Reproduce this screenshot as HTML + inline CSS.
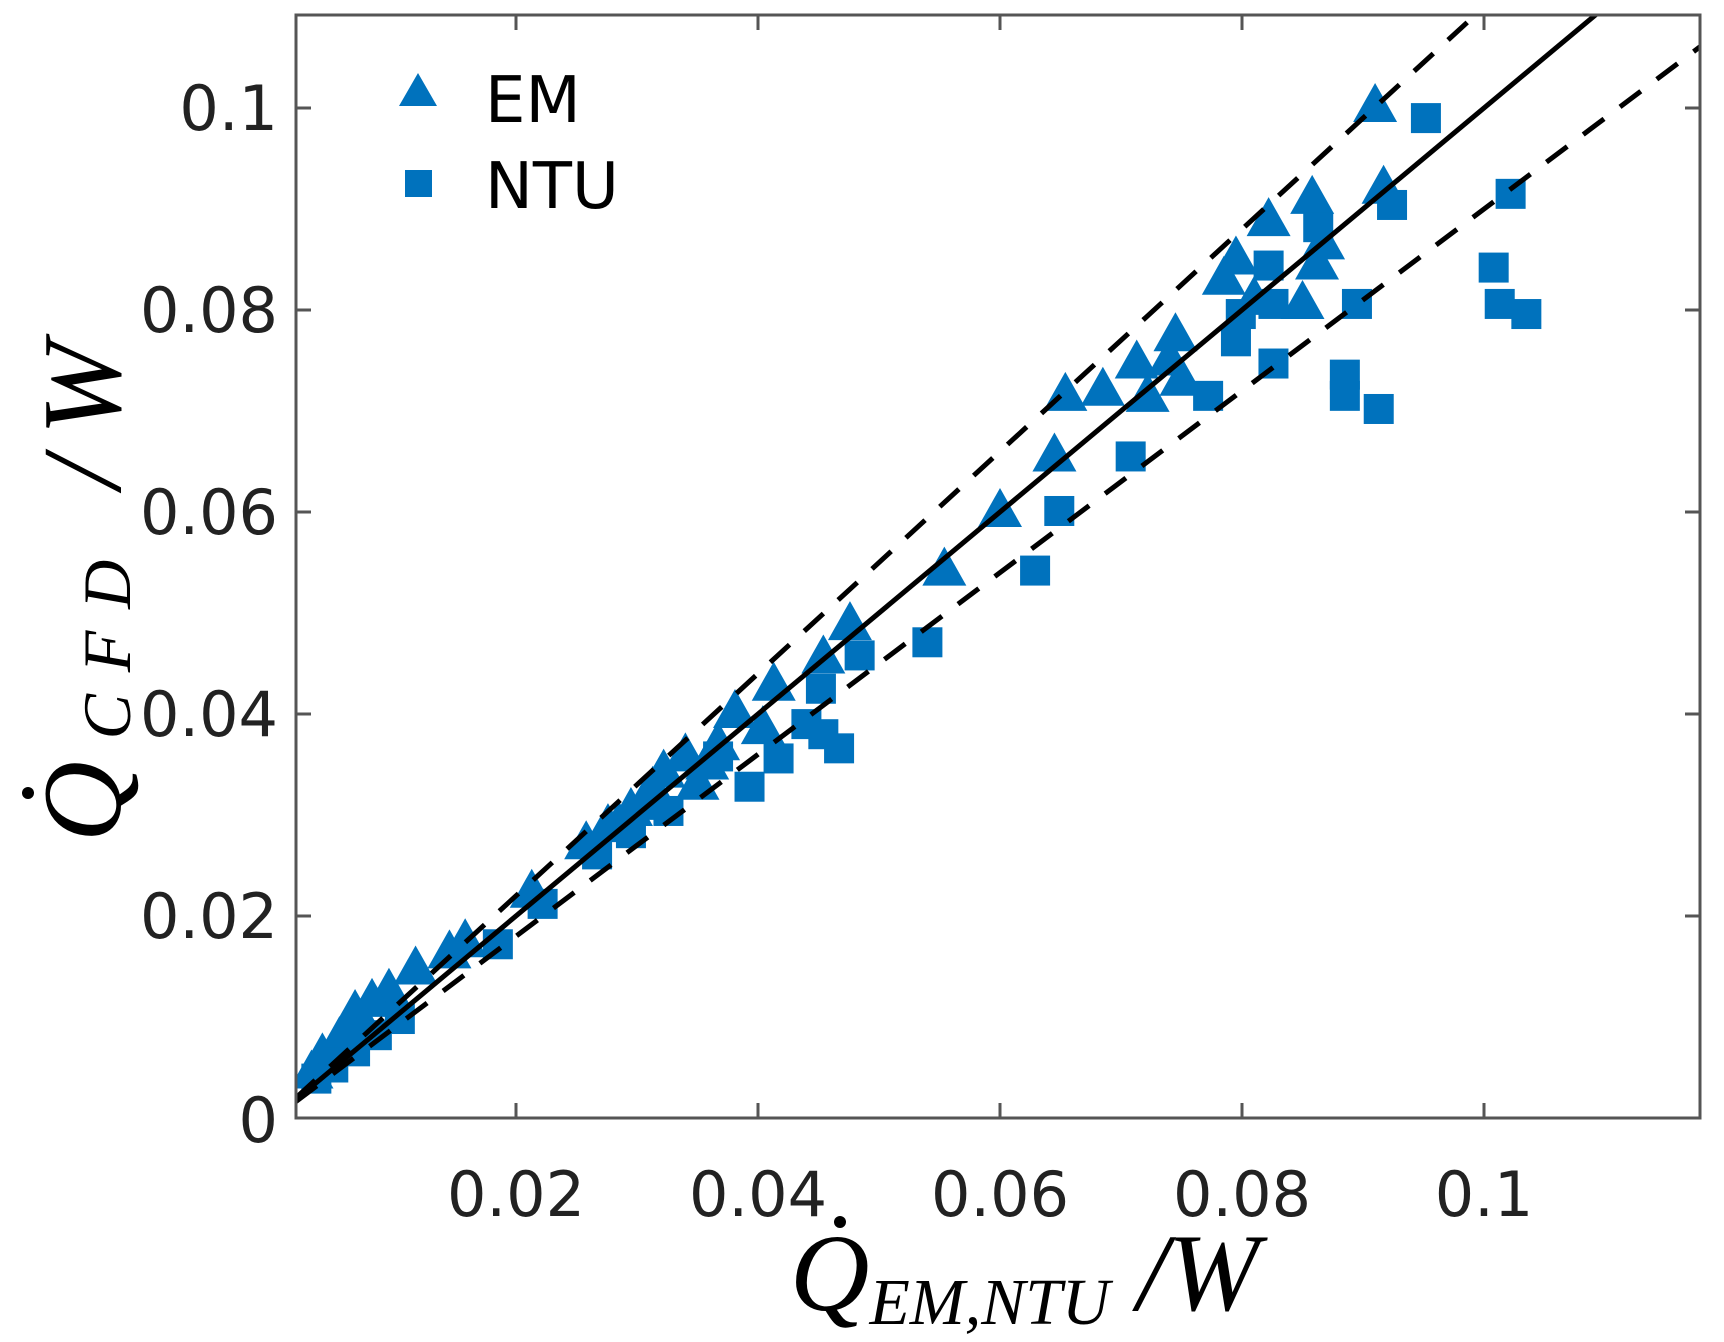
<!DOCTYPE html>
<html><head><meta charset="utf-8"><style>
html,body{margin:0;padding:0;background:#fff;}
svg{display:block;}
</style></head><body>
<svg id="chart" width="1724" height="1342" viewBox="0 0 1724 1342" xmlns="http://www.w3.org/2000/svg">
<rect width="1724" height="1342" fill="#fff"/>
<g id="marks"></g>
<g id="axes"></g>
<g transform="translate(120,0) rotate(-90)">
  <text x="-842" y="0" text-anchor="start" font-family="Liberation Serif, serif" font-style="italic" font-size="112" fill="#000" textLength="500" lengthAdjust="spacing">Q<tspan font-size="68" dy="10">CFD</tspan><tspan dy="-10"> /W</tspan></text>
  <circle cx="-793" cy="-92" r="6" fill="#000"/>
</g>
<g>
  <text x="790" y="1310" text-anchor="start" font-family="Liberation Serif, serif" font-style="italic" font-size="110" fill="#000">Q<tspan font-size="66" dy="14">EM,NTU</tspan><tspan dy="-14"> /W</tspan></text>
  <circle cx="840" cy="1222" r="6" fill="#000"/>
</g>
<g>
  <polygon points="399,106 437,106 418,73" fill="#0072BD"/>
  <text x="485" y="122" font-family="DejaVu Sans, sans-serif" font-size="64" fill="#000">EM</text>
  <rect x="405" y="170" width="27" height="27" fill="#0072BD"/>
  <text x="485" y="208" font-family="DejaVu Sans, sans-serif" font-size="64" fill="#000">NTU</text>
</g>
</svg>
<script>
const xTicks=[0.02,0.04,0.06,0.08,0.1];
const xTickLabels=["0.02","0.04","0.06","0.08","0.1"];
const yTicks=[0,0.02,0.04,0.06,0.08,0.1];
const yTickLabels=["0","0.02","0.04","0.06","0.08","0.1"];
const emX=[0.091,0.0917,0.0858,0.0822,0.0867,0.0862,0.0795,0.0785,0.085,0.081,0.0745,0.074,0.075,0.0713,0.0685,0.0654,0.0722,0.0645,0.06,0.0554,0.0476,0.0454,0.0413,0.0381,0.0404,0.0367,0.034,0.035,0.0322,0.0313,0.0295,0.0276,0.0258,0.0213,0.0158,0.0145,0.0117,0.0095,0.0081,0.0067,0.0054,0.004,0.0031,0.0358,0.0305,0.0285,0.0075,0.006];
const emY=[0.1001,0.092,0.091,0.0888,0.0865,0.0845,0.085,0.083,0.0806,0.081,0.0774,0.075,0.073,0.0747,0.072,0.0715,0.0714,0.0655,0.06,0.0542,0.0488,0.0455,0.0428,0.0401,0.0385,0.0369,0.0358,0.033,0.0342,0.0325,0.0304,0.0288,0.0271,0.0223,0.0174,0.0163,0.0147,0.0125,0.0115,0.0104,0.0077,0.0061,0.0044,0.035,0.031,0.029,0.009,0.0085];
const ntuX=[0.0952,0.1022,0.0924,0.1008,0.1013,0.1035,0.0895,0.0863,0.0822,0.0826,0.0799,0.0795,0.0826,0.0885,0.0885,0.0913,0.0772,0.0708,0.0649,0.0629,0.054,0.0484,0.0452,0.044,0.0454,0.0467,0.0417,0.0393,0.0367,0.0326,0.0295,0.0267,0.0222,0.0185,0.0104,0.0085,0.0067,0.0049,0.0035];
const ntuY=[0.099,0.0915,0.0904,0.0842,0.0806,0.0796,0.0806,0.0882,0.0844,0.0806,0.0796,0.0769,0.0747,0.0736,0.0715,0.0702,0.0715,0.0655,0.0601,0.0542,0.0471,0.0458,0.0425,0.039,0.038,0.0366,0.0356,0.0328,0.0358,0.0304,0.0282,0.0261,0.0212,0.0172,0.0098,0.0082,0.0066,0.005,0.0039];
const refRatios=[1,1.1,0.9];

const L=296,R=1700,T=15,B=1118;
const xMin=(L-516)/12100+0.02, xMax=(R-516)/12100+0.02;
function sx(v){return 516+(v-0.02)*12100;}
function sy(v){return 1118-v*10100;}
const NS="http://www.w3.org/2000/svg";
const marks=document.getElementById('marks');
const axes=document.getElementById('axes');
function mk(tag,attrs,parent){const e=document.createElementNS(NS,tag);for(const k in attrs)e.setAttribute(k,attrs[k]);parent.appendChild(e);return e;}

const defs=mk('defs',{},marks);
const cp=mk('clipPath',{id:'pc'},defs);
mk('rect',{x:L,y:T,width:R-L,height:B-T},cp);
const g=mk('g',{'clip-path':'url(#pc)'},marks);

for(let i=0;i<emX.length;i++){
  const cx=sx(emX[i]),cy=sy(emY[i]);
  const p=mk('polygon',{points:`${cx-22},${cy+15} ${cx+22},${cy+15} ${cx},${cy-24}`,fill:'#0072BD'},g);
  
  
}
for(let i=0;i<ntuX.length;i++){
  const cx=sx(ntuX[i]),cy=sy(ntuY[i]);
  const r=mk('rect',{x:cx-15,y:cy-15,width:30,height:30,fill:'#0072BD'},g);
  
  
}
refRatios.forEach((k,i)=>{
  const x0=xMin, x1=xMax;
  const ln=mk('line',{x1:sx(x0),y1:sy(k*x0),x2:sx(x1),y2:sy(k*x1),stroke:'#000','stroke-width':5},g);
  if(i>0) ln.setAttribute('stroke-dasharray','26 20');
  
  
});

const box=mk('rect',{x:L,y:T,width:R-L,height:B-T,fill:'none',stroke:'#555','stroke-width':3},axes);


xTicks.forEach((v,i)=>{
  const x=sx(v);
  mk('line',{x1:x,y1:B,x2:x,y2:B-15,stroke:'#555','stroke-width':3},axes);
  mk('line',{x1:x,y1:T,x2:x,y2:T+15,stroke:'#555','stroke-width':3},axes);
  const t=mk('text',{x:x,y:1216,'text-anchor':'middle','font-family':'DejaVu Sans, sans-serif','font-size':62,fill:'#222'},axes);
  t.textContent=xTickLabels[i];
  
  
});
yTicks.forEach((v,i)=>{
  const y=sy(v);
  if(v>0){
  mk('line',{x1:L,y1:y,x2:L+15,y2:y,stroke:'#555','stroke-width':3},axes);
  mk('line',{x1:R,y1:y,x2:R-15,y2:y,stroke:'#555','stroke-width':3},axes);}
  const t=mk('text',{x:278,y:(v===0?y+24:y+22),'text-anchor':'end','font-family':'DejaVu Sans, sans-serif','font-size':62,fill:'#222'},axes);
  t.textContent=yTickLabels[i];
  
  
});
</script>
</body></html>
